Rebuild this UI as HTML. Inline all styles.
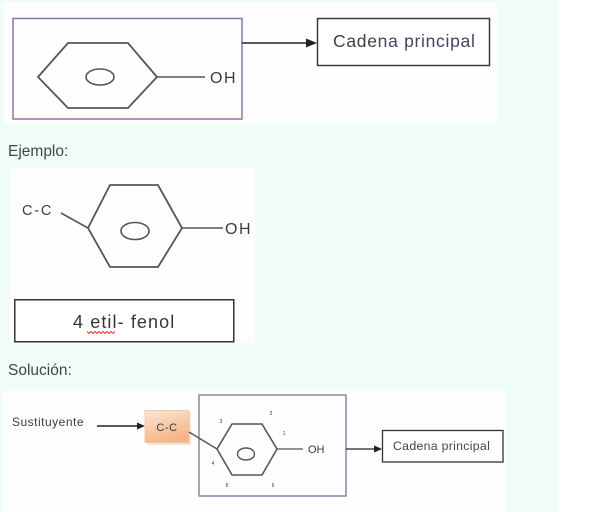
<!DOCTYPE html>
<html>
<head>
<meta charset="utf-8">
<style>
  html, body { margin:0; padding:0; background:#ffffff; }
  body { width:614px; height:512px; overflow:hidden; position:relative; }
  svg { display:block; }
  text { font-family: "Liberation Sans", Arial, sans-serif; }
</style>
</head>
<body>
<svg width="614" height="512" viewBox="0 0 614 512" xmlns="http://www.w3.org/2000/svg">
  <defs>
    <linearGradient id="og" x1="0" y1="0" x2="0.4" y2="1">
      <stop offset="0" stop-color="#fde6d3"/>
      <stop offset="1" stop-color="#f5b587"/>
    </linearGradient>
  </defs>

  <!-- backgrounds -->
  <rect x="0" y="0" width="558" height="512" fill="#effcf8"/>
  <rect x="558" y="0" width="56" height="512" fill="#ffffff"/>
  <rect x="4" y="2" width="493" height="121" fill="#fefefe"/>
  <rect x="10" y="168" width="245" height="175" fill="#fefefe"/>
  <rect x="3" y="391" width="502" height="121" fill="#fefefe"/>

  <!-- ===== Section 1 ===== -->
  <rect x="13" y="18.5" width="229" height="100.5" fill="none" stroke="#8e74a8" stroke-width="1.5"/>
  <polygon points="38,77 68,43 128,43 157,77 128,108 68,108" fill="none" stroke="#555" stroke-width="1.8" stroke-linejoin="miter"/>
  <ellipse cx="100" cy="77" rx="14" ry="8" fill="none" stroke="#555" stroke-width="1.6"/>
  <line x1="157" y1="77" x2="205" y2="77" stroke="#555" stroke-width="1.6"/>
  <text x="210" y="83" font-size="16" fill="#3c3c3c" letter-spacing="1.5">OH</text>

  <line x1="242" y1="43" x2="308" y2="43" stroke="#222" stroke-width="1.6"/>
  <polygon points="317,43 306,38.5 306,47.5" fill="#222"/>
  <rect x="317.5" y="18.5" width="172" height="47" fill="#fff" stroke="#3a3a3a" stroke-width="1.5"/>
  <text x="333" y="47" font-size="17.5" fill="#404040" letter-spacing="0.7">Cade<tspan fill="#4e3f5e">na principal</tspan></text>

  <text x="8" y="156" font-size="15.5" fill="#444">Ejemplo:</text>

  <!-- ===== Section 2 ===== -->
  <text x="22" y="215" font-size="14.5" fill="#3c3c3c" letter-spacing="1.8">C-C</text>
  <line x1="61" y1="213" x2="88" y2="228" stroke="#555" stroke-width="1.6"/>
  <polygon points="88,228 110,185 158,185 182,228 158,267 110,267" fill="none" stroke="#555" stroke-width="1.8"/>
  <ellipse cx="135" cy="231" rx="14" ry="8.5" fill="none" stroke="#555" stroke-width="1.6"/>
  <line x1="182" y1="228" x2="223" y2="228" stroke="#555" stroke-width="1.6"/>
  <text x="225" y="234" font-size="16" fill="#3c3c3c" letter-spacing="1.5">OH</text>

  <rect x="14.75" y="299.75" width="219" height="42" fill="#fff" stroke="#333" stroke-width="1.5"/>
  <text x="73" y="328" font-size="18" fill="#363636" letter-spacing="1.1">4 etil- fenol</text>
  <path d="M87,331.5 l2,2 l2,-2 l2,2 l2,-2 l2,2 l2,-2 l2,2 l2,-2 l2,2 l2,-2 l2,2 l2,-2 l2,2 l2,-2" fill="none" stroke="#e0403a" stroke-width="1"/>

  <text x="8" y="375" font-size="15.5" fill="#444">Solución:</text>

  <!-- ===== Section 3 ===== -->
  <text x="12" y="426" font-size="12" fill="#3c3c3c" letter-spacing="0.5">Sustituyente</text>
  <line x1="97" y1="426" x2="139" y2="426" stroke="#222" stroke-width="1.4"/>
  <polygon points="145,426 137,422.5 137,429.5" fill="#222"/>

  <rect x="147" y="412" width="44" height="33" fill="#e8c8ad" opacity="0.5"/>
  <rect x="145" y="410.5" width="44" height="32" fill="url(#og)" stroke="#f0c4a0" stroke-width="0.8"/>
  <text x="167" y="431" font-size="11" fill="#3c3c3c" text-anchor="middle" letter-spacing="0.6">C-C</text>

  <rect x="199" y="395" width="147" height="101" fill="none" stroke="#8e74a8" stroke-width="1.4"/>
  <line x1="189" y1="432" x2="217" y2="449" stroke="#555" stroke-width="1.4"/>
  <polygon points="217,449 232,424 262,424 277,449 262,475 232,475" fill="none" stroke="#555" stroke-width="1.6"/>
  <ellipse cx="246" cy="454" rx="8.5" ry="6" fill="none" stroke="#555" stroke-width="1.4"/>
  <line x1="277" y1="449" x2="303" y2="449" stroke="#555" stroke-width="1.3"/>
  <text x="308" y="453" font-size="11" fill="#3c3c3c">OH</text>

  <text x="221" y="423" font-size="5" fill="#333" text-anchor="middle">3</text>
  <text x="271" y="415" font-size="5" fill="#333" text-anchor="middle">2</text>
  <text x="284" y="435" font-size="5" fill="#333" text-anchor="middle">1</text>
  <text x="213" y="465" font-size="5" fill="#333" text-anchor="middle">4</text>
  <text x="227" y="487" font-size="5" fill="#333" text-anchor="middle">5</text>
  <text x="273" y="487" font-size="5" fill="#333" text-anchor="middle">6</text>

  <line x1="346" y1="449" x2="376" y2="449" stroke="#222" stroke-width="1.3"/>
  <polygon points="382,449 374,445.5 374,452.5" fill="#222"/>
  <rect x="382.5" y="430.5" width="120.5" height="31.5" fill="#fff" stroke="#333" stroke-width="1.3"/>
  <text x="393" y="450" font-size="12.3" fill="#404040" letter-spacing="0.3">Cade<tspan fill="#4e3f5e">na principal</tspan></text>
</svg>
</body>
</html>
